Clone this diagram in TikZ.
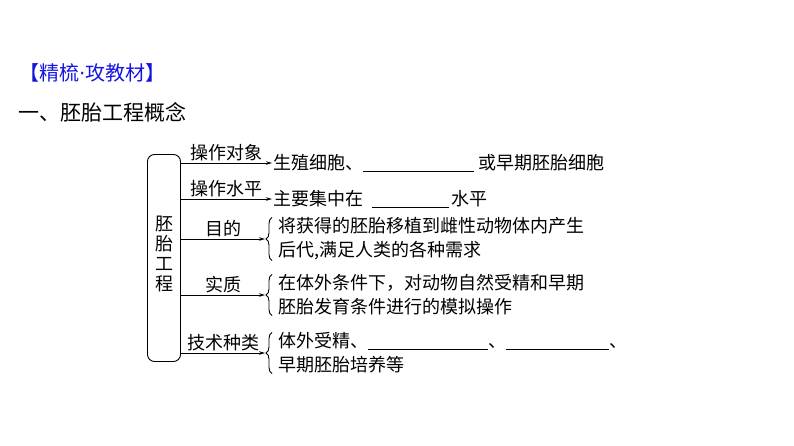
\documentclass[tikz,border=0pt]{standalone}
\usepackage{fontspec}
\setmainfont{Noto Sans CJK SC}
\newfontfamily\dotfont{DejaVu Sans}
\usetikzlibrary{arrows.meta,decorations.pathreplacing}
\definecolor{titleblue}{RGB}{20,20,225}
\newcommand{\blank}[1]{\underline{\hspace{#1}}}
\tikzset{
  txt/.style={inner sep=0pt, anchor=west, align=left, font=\fontsize{18}{24}\selectfont},
  lbl/.style={inner sep=2pt, font=\fontsize{18}{24}\selectfont},
  arr/.style={line width=0.9pt, shorten >=1pt, -{Stealth[length=6pt,width=3.5pt]}},
  brc/.style={line width=0.9pt, decorate, decoration={brace,amplitude=6pt}}
}
\begin{document}
\begin{tikzpicture}[x=1pt,y=-1pt]
  \useasboundingbox (0,0) rectangle (794,446);
  \node[anchor=west, inner sep=0pt, text=titleblue, font=\fontsize{20}{24}\selectfont] (title) at (19,73) {【精梳{\dotfont ·}攻教材】};
  \node[anchor=west, inner sep=0pt, font=\fontsize{21}{24}\selectfont] (heading) at (18,112) {一、胚胎工程概念};
  \node[draw, line width=0.9pt, rounded corners=7pt, minimum width=33pt, minimum height=207pt] (embryo) at (164,258) {};
  \node[align=center, inner sep=0pt, font=\fontsize{18}{20}\selectfont] (embryolbl) at ([yshift=4pt]embryo.center) {胚\\胎\\工\\程};
  \node[txt] (object) at (273,163) {生殖细胞、\blank{111pt}\hspace{4pt}或早期胚胎细胞};
  \node[txt] (level) at (273,199) {主要集中在\hspace{9pt}\blank{77pt}\hspace{2pt}水平};
  \node[txt] (purpose) at (278,239) {将获得的胚胎移植到雌性动物体内产生\\后代,满足人类的各种需求};
  \node[txt] (essence) at (278,295) {在体外条件下，对动物自然受精和早期\\胚胎发育条件进行的模拟操作};
  \node[txt] (technique) at (278,353) {体外受精、\blank{120pt}、\blank{103pt}、\\早期胚胎培养等};
  \draw[arr] (embryo.east |- object.west) -- node[lbl, above] (objectlbl) {操作对象} (object.west);
  \draw[arr] (embryo.east |- level.west) -- node[lbl, above] (levellbl) {操作水平} (level.west);
  \foreach \t/\l in {purpose/目的, essence/实质, technique/技术种类} {
    \draw[brc] ([xshift=-6pt]\t.south west) -- ([xshift=-6pt]\t.north west);
    \draw[arr] (embryo.east |- \t.west) -- node[lbl, above] (\t lbl) {\l} ([xshift=-12pt]\t.west);
  }
\end{tikzpicture}
\end{document}
